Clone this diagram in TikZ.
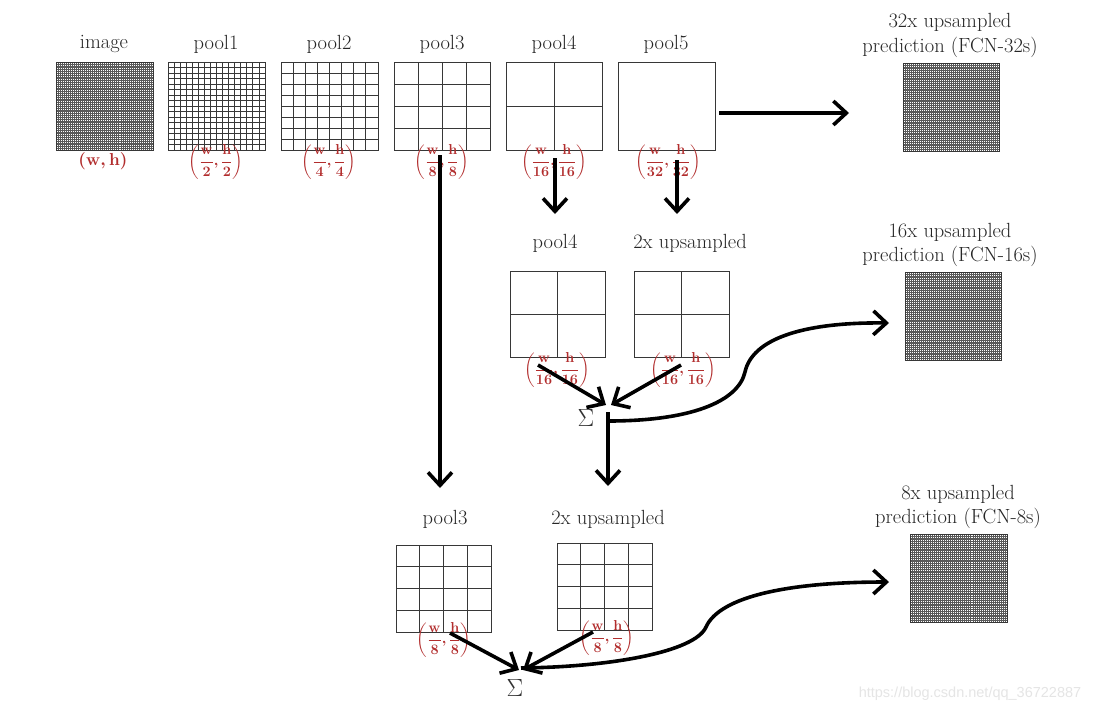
\documentclass[tikz,border=0pt]{standalone}
\usepackage{fontspec}
\usepackage{amsmath}
\newfontfamily\wmfont{Liberation Sans}
\usetikzlibrary{arrows.meta}
\definecolor{fcol}{RGB}{178,45,45}
\definecolor{gcol}{RGB}{55,55,55}
\tikzset{
  lab/.style={font=\fontsize{20.5}{24}\selectfont, text=black!85, inner sep=0pt},
  fraclab/.style={font=\fontsize{13.5}{16}\selectfont\boldmath, text=fcol, inner sep=0pt},
  sumlab/.style={font=\fontsize{27}{30}\selectfont, text=black!80, inner sep=0pt},
  gnode/.style={draw=gcol, line width=0.9pt, inner sep=0pt, outer sep=0pt},
  arr/.style={line width=3.6pt, -{Straight Barb[length=13pt,width=24pt]}},
}
% name, cx, cy, w, h, n, grid line width, grid colour
\newcommand\gbox[8]{%
  \pgfmathsetmacro\gsx{#4/#6}\pgfmathsetmacro\gsy{#5/#6}%
  \draw[#8, line width=#7, xstep=\gsx pt, ystep=\gsy pt, shift={({#2-#4/2},{#3-#5/2})}] (0,0) grid (#4,#5);
  \node[gnode, minimum width=#4pt, minimum height=#5pt] (#1) at (#2,#3) {};%
}
\newcommand\fr[1]{$\left(\dfrac{\mathbf{w}}{\mathbf{#1}},\dfrac{\mathbf{h}}{\mathbf{#1}}\right)$}
\begin{document}
\begin{tikzpicture}[x=1pt,y=1pt]
\fill[white] (0,0) rectangle (1103,-716);
\useasboundingbox (0,0) rectangle (1103,-716);

% ---- top row ----
\gbox{img}{104.5}{-106}{97}{88}{48}{0.3pt}{black!65}
\gbox{p1}{216.5}{-106}{97}{88}{16}{0.8pt}{gcol}
\gbox{p2}{329.5}{-106}{97}{88}{8}{0.8pt}{gcol}
\gbox{p3}{442}{-106}{96}{88}{4}{0.8pt}{gcol}
\gbox{p4}{554}{-106}{96}{88}{2}{0.8pt}{gcol}
\gbox{p5}{666.5}{-106}{97}{88}{1}{0.8pt}{gcol}

\node[lab] (limg) at (104,-44) {image};
\node[lab] (lp1) at (216,-44) {pool1};
\node[lab] (lp2) at (329,-44) {pool2};
\node[lab] (lp3) at (442,-44) {pool3};
\node[lab] (lp4) at (554,-44) {pool4};
\node[lab] (lp5) at (666,-44) {pool5};

\node[fraclab, font=\fontsize{18}{22}\selectfont\boldmath] (fimg) at (103,-161) {$(\mathbf{w},\mathbf{h})$};
\node[fraclab] (fp1) at (216,-162) {\fr{2}};
\node[fraclab] (fp2) at (329,-162) {\fr{4}};
\node[fraclab] (fp3) at (442,-162) {\fr{8}};
\node[fraclab] (fp4) at (554,-162) {\fr{16}};
\node[fraclab] (fp5) at (668,-162) {\fr{32}};

% FCN-32s
\node[lab] (l32a) at (950,-22) {32x upsampled};
\node[lab] (l32b) at (950,-47) {prediction (FCN-32s)};
\gbox{pr32}{951}{-107}{96}{88}{48}{0.3pt}{black!65}

% ---- middle ----
\node[lab] (lm4) at (555,-243) {pool4};
\node[lab] (lmu) at (690,-243) {2x upsampled};
\gbox{m4}{557.5}{-314}{95}{86}{2}{0.8pt}{gcol}
\gbox{mu}{681.5}{-314}{95}{86}{2}{0.8pt}{gcol}
\node[fraclab] (fm4) at (557,-370) {\fr{16}};
\node[fraclab] (fmu) at (683,-370) {\fr{16}};
\node[sumlab] (s1) at (586,-418) {$\Sigma$};

\node[lab] (l16a) at (950,-232) {16x upsampled};
\node[lab] (l16b) at (950,-256) {prediction (FCN-16s)};
\gbox{pr16}{953}{-316}{96}{88}{48}{0.3pt}{black!65}

% ---- bottom ----
\node[lab] (lb3) at (445,-519) {pool3};
\node[lab] (lbu) at (608,-519) {2x upsampled};
\gbox{b3}{443.5}{-588.5}{95}{87}{4}{0.8pt}{gcol}
\gbox{bu}{604.5}{-586.5}{95}{87}{4}{0.8pt}{gcol}
\node[fraclab] (fb3) at (444,-640) {\fr{8}};
\node[fraclab] (fbu) at (607,-638) {\fr{8}};
\node[sumlab] (s2) at (515,-688) {$\Sigma$};

\node[lab] (l8a) at (958,-494) {8x upsampled};
\node[lab] (l8b) at (958,-518) {prediction (FCN-8s)};
\gbox{pr8}{958.5}{-578}{97}{88}{48}{0.3pt}{black!65}

% ---- connector end points ----
\coordinate (c5s) at (719,-113);
\coordinate (c5e) at (849,-113);
\coordinate (c4s) at (555,-158);
\coordinate (c4e) at (555,-214);
\coordinate (c5ds) at (677,-160);
\coordinate (c5de) at (677,-214);
\coordinate (c3s) at (440,-155);
\coordinate (c3e) at (440,-488);
\coordinate (cm4s) at (538,-365);
\coordinate (cmus) at (681,-365);
\coordinate (s1in) at (606,-405);
\coordinate (s1in2) at (611,-405);
\coordinate (s1v) at (608,-412);
\coordinate (s1down) at (608,-486);
\coordinate (s1c) at (608,-421);
\coordinate (e16) at (889,-323);
\coordinate (cb3s) at (450,-633);
\coordinate (cbus) at (593,-632);
\coordinate (s2in) at (519,-670);
\coordinate (s2in2) at (523,-670);
\coordinate (s2c) at (521,-668);
\coordinate (e8) at (889,-582);

% ---- connectors ----
\draw[arr] (c5s) -- (c5e);
\draw[arr] (c4s) -- (c4e);
\draw[arr] (c5ds) -- (c5de);
\draw[arr] (c3s) -- (c3e);
\draw[arr] (cm4s) -- (s1in);
\draw[arr] (cmus) -- (s1in2);
\draw[arr] (s1v) -- (s1down);
\draw[arr] (s1c) .. controls (690,-421) and (738,-402) .. (745,-372)
               .. controls (752,-340) and (800,-322) .. (e16);
\draw[arr] (cb3s) -- (s2in);
\draw[arr] (cbus) -- (s2in2);
\draw[arr] (s2c) .. controls (610,-667) and (695,-652) .. (706,-627)
               .. controls (720,-596) and (790,-582) .. (e8);

% watermark
\node[font=\wmfont\fontsize{14.5}{16}\selectfont, text=black!10, inner sep=0pt] (wm) at (970,-694) {https://blog.csdn.net/qq\_36722887};
\end{tikzpicture}
\end{document}
